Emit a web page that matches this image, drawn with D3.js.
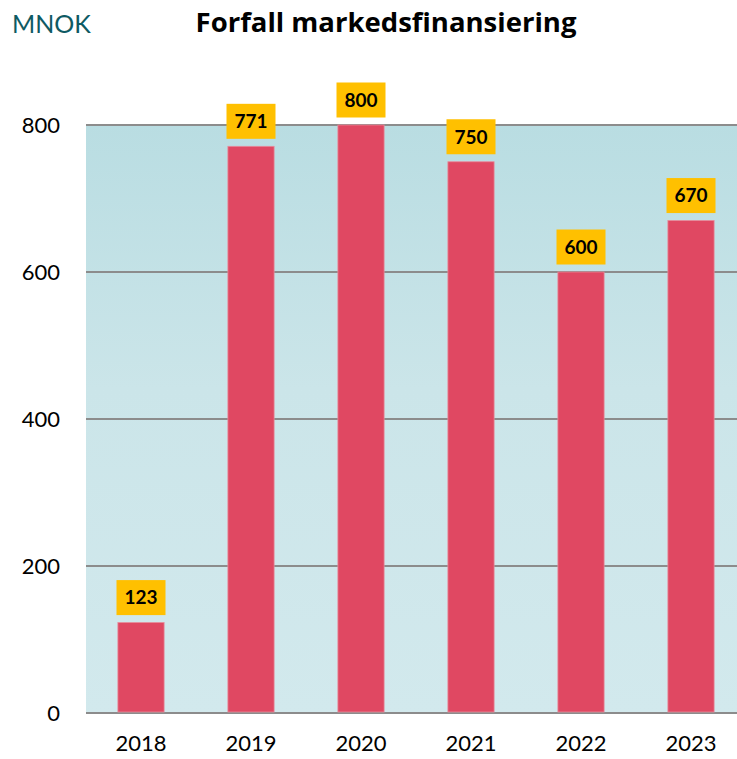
<!DOCTYPE html>
<html>
<head>
<meta charset="utf-8">
<script src="https://cdn.jsdelivr.net/npm/d3@7"></script>
<style>
  body { margin: 0; background: #fff; }
  svg text { font-family: Lato, "Open Sans", sans-serif; }
</style>
</head>
<body>
<div id="chart"></div>
<script>
// data
var years = ["2018", "2019", "2020", "2021", "2022", "2023"]
var values = [123, 771, 800, 750, 600, 670]
var yTicks = [0, 200, 400, 600, 800]

var width = 737,
    height = 759
var plotLeft = 86, plotRight = 746, plotTop = 125, plotBottom = 713

var svg = d3.select("#chart")
    .append("svg")
    .attr("width", width)
    .attr("height", height)

var x = d3.scaleBand()
    .domain(years)
    .range([plotLeft, plotRight])
    .paddingInner(0.58)
    .paddingOuter(0.29)

var y = d3.scaleLinear()
    .domain([0, 800])
    .range([plotBottom, plotTop])

// background gradient
var grad = svg.append("defs").append("linearGradient")
    .attr("id", "bg")
    .attr("x1", 0).attr("y1", 0).attr("x2", 0).attr("y2", 1)
grad.append("stop").attr("offset", "0%").attr("stop-color", "#b9dde2")
grad.append("stop").attr("offset", "45%").attr("stop-color", "#cbe5e9")
grad.append("stop").attr("offset", "100%").attr("stop-color", "#d2e9ed")

svg.append("rect")
    .attr("x", plotLeft)
    .attr("y", y(800))
    .attr("width", plotRight - plotLeft)
    .attr("height", y(0) - y(800))
    .attr("fill", "url(#bg)")

// grid lines
svg.append("g")
  .selectAll("line")
  .data(yTicks)
  .join("line")
    .attr("x1", plotLeft)
    .attr("x2", plotRight)
    .attr("y1", d => y(d))
    .attr("y2", d => y(d))
    .attr("stroke", "#8c8c8c")
    .attr("stroke-width", 2)

// y axis labels
var yAxis = svg.append("g")
    .attr("transform", "translate(" + (plotLeft - 26) + ",0)")
    .call(d3.axisLeft(y).tickValues(yTicks).tickSize(0).tickPadding(0))
yAxis.select(".domain").remove()
yAxis.selectAll("text")
    .attr("font-size", 22)
    .attr("fill", "#000")
    .style("font-family", "Lato, 'Open Sans', sans-serif")

// x axis labels
var xAxis = svg.append("g")
    .attr("transform", "translate(0," + plotBottom + ")")
    .call(d3.axisBottom(x).tickSize(0).tickPadding(22))
xAxis.select(".domain").remove()
xAxis.selectAll("text")
    .attr("font-size", 22)
    .attr("fill", "#000")
    .style("font-family", "Lato, 'Open Sans', sans-serif")

// bars
svg.append("g")
  .selectAll("rect")
  .data(values)
  .join("rect")
    .attr("x", (d, i) => x(years[i]))
    .attr("y", d => y(d))
    .attr("width", x.bandwidth())
    .attr("height", d => y(0) - y(d) - 1)
    .attr("fill", "#e04862")
    .attr("stroke", "#e88a9a")
    .attr("stroke-width", 0.8)

// value labels
var labels = svg.append("g")
  .selectAll("g")
  .data(values)
  .join("g")
    .attr("transform", (d, i) => "translate(" + (x(years[i]) + x.bandwidth() / 2) + "," + (y(d) - 25) + ")")

labels.append("rect")
    .attr("x", -24.5)
    .attr("y", -17.5)
    .attr("width", 49)
    .attr("height", 35)
    .attr("fill", "#ffc000")

labels.append("text")
    .attr("text-anchor", "middle")
    .attr("dy", "0.36em")
    .attr("font-size", 19)
    .attr("font-weight", "bold")
    .attr("fill", "#000")
    .text(d => d)

// titles
svg.append("text")
    .attr("x", 12)
    .attr("y", 33)
    .attr("font-size", 25)
    .attr("fill", "#0e5a63")
    .text("MNOK")

svg.append("text")
    .attr("x", 386)
    .attr("y", 32)
    .attr("text-anchor", "middle")
    .attr("font-size", 27.5)
    .attr("font-weight", "bold")
    .attr("fill", "#000")
    .style("font-family", "'Open Sans', sans-serif")
    .text("Forfall markedsfinansiering")
</script>
</body>
</html>
